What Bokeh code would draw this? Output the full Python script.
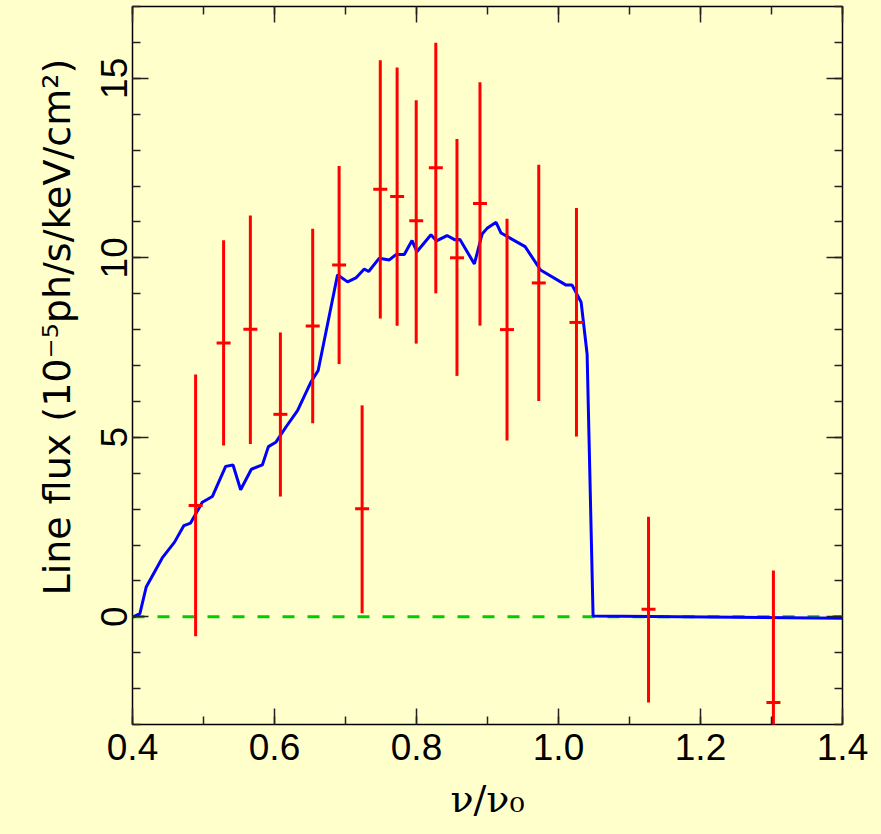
from bokeh.plotting import figure
from bokeh.models import LinearAxis, FixedTicker, PrintfTickFormatter, Range1d, Title, GlobalInlineStyleSheet
from bokeh.embed import file_html
from bokeh.resources import INLINE

# ---- data ----
nu = [0.4889, 0.5283, 0.5660, 0.6083, 0.6538, 0.6910, 0.7234, 0.7490, 0.7727,
      0.7996, 0.8272, 0.8570, 0.8894, 0.9275, 0.9722, 1.0253, 1.1268, 1.3027]
flux = [3.10, 7.63, 8.01, 5.64, 8.10, 9.80, 3.01, 11.91, 11.71,
        11.03, 12.51, 10.00, 11.51, 8.00, 9.30, 8.20, 0.21, -2.39]
flux_hi = [6.75, 10.49, 11.18, 7.92, 10.81, 12.56, 5.89, 15.50, 15.30,
           14.39, 15.99, 13.31, 14.89, 11.09, 12.59, 11.39, 2.79, 1.29]
flux_lo = [-0.54, 4.77, 4.81, 3.35, 5.39, 7.04, 0.10, 8.31, 8.11,
           7.61, 9.01, 6.71, 8.11, 4.91, 6.01, 5.02, -2.39, -3.50]

model_nu = [0.4004, 0.4104, 0.4193, 0.4419, 0.4592, 0.4724, 0.4818, 0.4983, 0.5124,
            0.5312, 0.5416, 0.5523, 0.5674, 0.5829, 0.5914, 0.6018, 0.6159, 0.6324,
            0.6511, 0.6615, 0.6888, 0.7029, 0.7146, 0.7264, 0.7326, 0.7476, 0.7617,
            0.7711, 0.7828, 0.7937, 0.8005, 0.8204, 0.8282, 0.8430, 0.8542, 0.8612,
            0.8815, 0.8924, 0.8994, 0.9121, 0.9191, 0.9530, 0.9747, 1.0107, 1.0192,
            1.0319, 1.0403, 1.0487, 1.4000]
model_flux = [-0.01, 0.09, 0.83, 1.64, 2.08, 2.54, 2.61, 3.19, 3.35,
              4.19, 4.23, 3.54, 4.11, 4.23, 4.74, 4.86, 5.28, 5.74,
              6.53, 6.86, 9.53, 9.33, 9.44, 9.69, 9.62, 9.99, 9.94,
              10.09, 10.09, 10.48, 10.17, 10.64, 10.47, 10.62, 10.50, 10.51,
              9.83, 10.66, 10.82, 10.99, 10.69, 10.31, 9.66, 9.24, 9.24,
              8.76, 7.32, 0.02, -0.04]

zero_x = [0.4, 1.4]
zero_y = [0.0, 0.0]

x_ticks = [0.4, 0.6, 0.8, 1.0, 1.2, 1.4]
x_minor = [0.4, 0.5, 0.6, 0.7, 0.8, 0.9, 1.0, 1.1, 1.2, 1.3, 1.4]
y_ticks = [0, 5, 10, 15]
y_minor = list(range(-3, 18))

x_title = "\u03bd/\u03bd\u2080"
y_title = "Line flux (10\u207b\u2075ph/s/keV/cm\u00b2)"

BG = "#ffffcc"

p = figure(width=881, height=834, x_range=Range1d(0.4, 1.4), y_range=Range1d(-3, 17),
           output_backend="svg", toolbar_location=None,
           x_axis_location=None, y_axis_location=None,
           min_border_left=132, min_border_right=39, min_border_top=6, min_border_bottom=110,
           background_fill_color=BG, border_fill_color=BG,
           outline_line_color="black", outline_line_width=1.5)
p.stylesheets = [GlobalInlineStyleSheet(css="body { background: #ffffcc; }")]
for g in p.grid:
    g.visible = False


def make_axis(ticks, minor, labels, **kw):
    ax = LinearAxis(ticker=FixedTicker(ticks=ticks, minor_ticks=minor), **kw)
    ax.axis_line_color = None
    ax.major_tick_in = 16
    ax.major_tick_out = 0
    ax.minor_tick_in = 8
    ax.minor_tick_out = 0
    ax.major_tick_line_color = "#222222"
    ax.minor_tick_line_color = "#222222"
    ax.major_tick_line_width = 1.5
    ax.minor_tick_line_width = 1.5
    if labels:
        ax.major_label_text_font = "Liberation Sans"
        ax.major_label_text_font_size = "37px"
        ax.major_label_text_color = "black"
    else:
        ax.major_label_text_font_size = "0px"
        ax.major_label_standoff = 0
        ax.major_label_overrides = {t: "" for t in ticks}
    return ax


xb = make_axis(x_ticks, x_minor, True, formatter=PrintfTickFormatter(format="%.1f"))
xb.major_label_standoff = 9
xb.axis_label = x_title
xb.axis_label_text_font = "DejaVu Serif"
xb.axis_label_text_font_size = "38px"
xb.axis_label_text_font_style = "normal"
xb.axis_label_text_color = "black"
xb.axis_label_standoff = 14
xt = make_axis(x_ticks, x_minor, False)
yl = make_axis(y_ticks, y_minor, True)
yl.major_label_orientation = "vertical"
yl.major_label_standoff = 5
yr = make_axis(y_ticks, y_minor, False)
p.add_layout(xb, "below")
p.add_layout(xt, "above")
p.add_layout(yl, "left")
p.add_layout(yr, "right")

p.add_layout(Title(text=y_title, align="left", offset=129, standoff=40,
                   text_font="DejaVu Sans", text_font_size="38px",
                   text_font_style="normal", text_color="black"), "left")

# zero line, model, data
p.line(zero_x, zero_y, line_color="#00cc00", line_width=3, line_dash="12 13")
p.line(model_nu, model_flux, line_color="#0000ff", line_width=3)
p.segment(x0=nu, y0=flux_lo, x1=nu, y1=flux_hi, line_color="#ff0000", line_width=3)
p.scatter(nu, flux, marker="dash", size=14, line_color="#ff0000", line_width=3)

open("out.html", "w").write(file_html(p, INLINE))
